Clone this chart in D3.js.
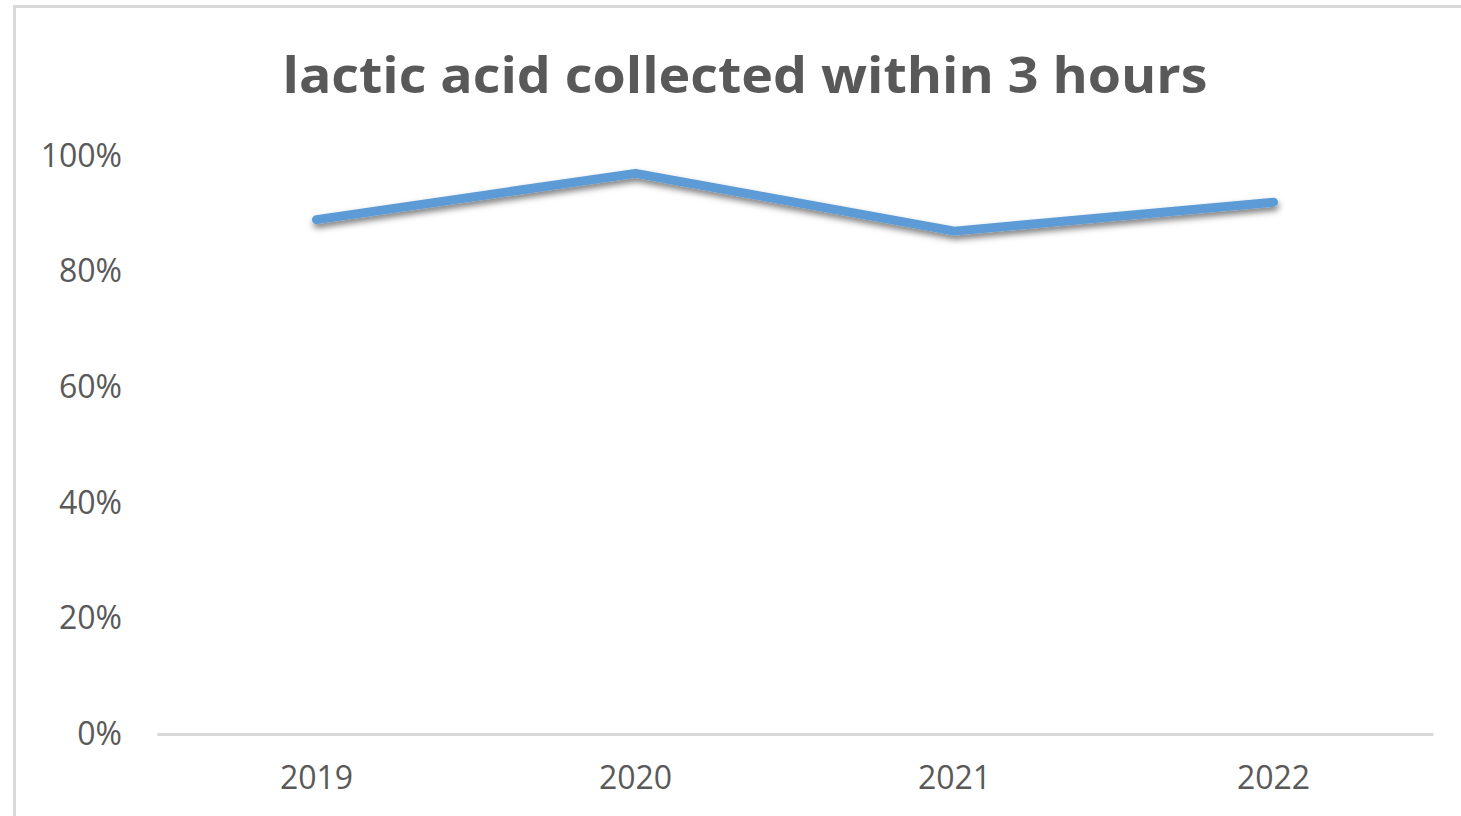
<!DOCTYPE html>
<html>
<head>
<meta charset="utf-8">
<script src="https://cdn.jsdelivr.net/npm/d3@7"></script>
<style>
  html, body { margin: 0; padding: 0; background: #ffffff; }
  svg { display: block; }
</style>
</head>
<body>
<script>
// Share of lactic acid samples collected within 3 hours, by year
const years = ["2019", "2020", "2021", "2022"];
const shareWithin3h = [0.89, 0.97, 0.87, 0.92];
const yTicks = [0, 0.2, 0.4, 0.6, 0.8, 1.0];
const titleText = "lactic acid collected within 3 hours";

const W = 1461, H = 816;
const svg = d3.select("body").append("svg").attr("width", W).attr("height", H);

// chart area frame
svg.append("path")
  .attr("d", `M14.5,${H} L14.5,6.5 L${W},6.5`)
  .attr("fill", "none")
  .attr("stroke", "#d9d9d9")
  .attr("stroke-width", 3);

const defs = svg.append("defs");
const shadow = defs.append("filter").attr("id", "lineShadow")
  .attr("x", "-10%").attr("y", "-50%").attr("width", "120%").attr("height", "200%");
shadow.append("feDropShadow")
  .attr("dx", 1).attr("dy", 4).attr("stdDeviation", 3)
  .attr("flood-color", "#000").attr("flood-opacity", 0.5);

const plot = { left: 157, right: 1433, top: 156, bottom: 734 };

const x = d3.scaleBand().domain(years).range([plot.left, plot.right]);
const y = d3.scaleLinear().domain([0, 1]).range([plot.bottom, plot.top]);

// title
svg.append("text")
  .attr("x", 745).attr("y", 93)
  .attr("text-anchor", "middle")
  .attr("font-family", "'Open Sans', sans-serif")
  .attr("font-weight", 700)
  .attr("font-size", 50)
  .attr("fill", "#595959")
  .attr("textLength", 925)
  .attr("lengthAdjust", "spacingAndGlyphs")
  .text(titleText);

// y axis (labels only)
const yAxis = d3.axisLeft(y).tickValues(yTicks).tickFormat(d3.format(".0%")).tickSize(0).tickPadding(0);
const gy = svg.append("g").attr("transform", `translate(122,0)`).call(yAxis);
gy.select(".domain").remove();
gy.selectAll("text")
  .attr("font-family", "'Open Sans', sans-serif")
  .attr("font-size", 32)
  .attr("fill", "#595959");

// x axis
const xAxis = d3.axisBottom(x).tickSize(0).tickPadding(32);
const gx = svg.append("g").attr("transform", `translate(0,${plot.bottom})`).call(xAxis);
gx.select(".domain").attr("stroke", "#d9d9d9").attr("stroke-width", 3);
gx.selectAll("text")
  .attr("font-family", "'Open Sans', sans-serif")
  .attr("font-size", 32)
  .attr("fill", "#595959");

// series line
const line = d3.line()
  .x((d, i) => x(years[i]) + x.bandwidth() / 2)
  .y(d => y(d));

svg.append("path")
  .datum(shareWithin3h)
  .attr("d", line)
  .attr("fill", "none")
  .attr("stroke", "#5b9bd5")
  .attr("stroke-width", 9)
  .attr("stroke-linecap", "round")
  .attr("stroke-linejoin", "round")
  .attr("filter", "url(#lineShadow)");
</script>
</body>
</html>
